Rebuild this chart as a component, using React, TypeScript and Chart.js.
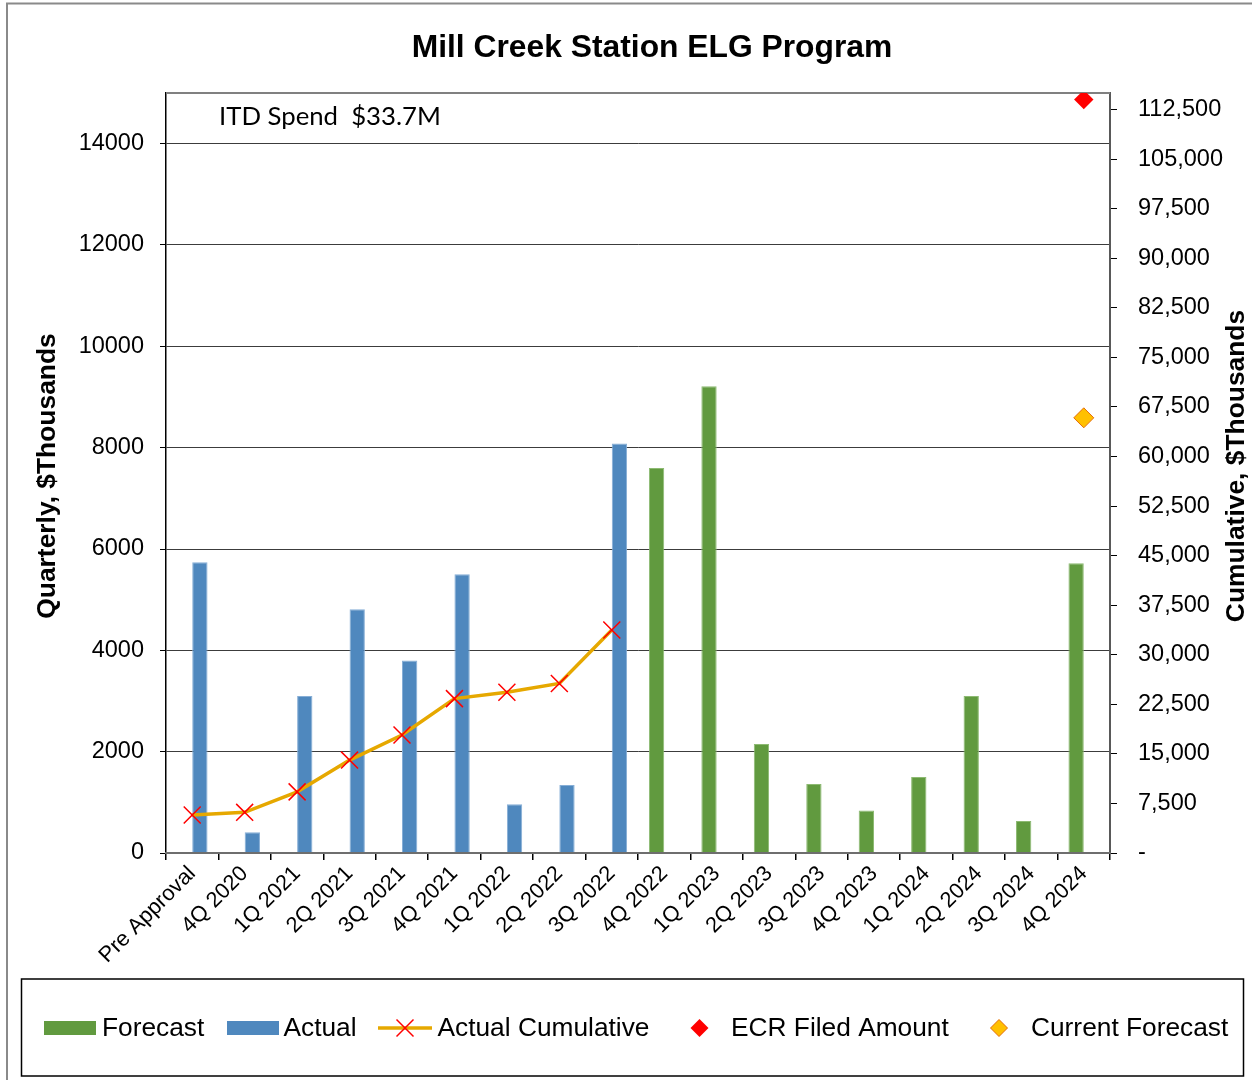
import React, { useEffect, useRef } from 'react';
import { Chart, registerables } from 'chart.js';

Chart.register(...registerables);

const CATEGORIES = [
  'Pre Approval', '4Q 2020', '1Q 2021', '2Q 2021', '3Q 2021', '4Q 2021',
  '1Q 2022', '2Q 2022', '3Q 2022', '4Q 2022', '1Q 2023', '2Q 2023',
  '3Q 2023', '4Q 2023', '1Q 2024', '2Q 2024', '3Q 2024', '4Q 2024',
];
const FORECAST = [null, null, null, null, null, null, null, null, null, 7600, 9210, 2150, 1360, 840, 1500, 3100, 630, 5720];
const ACTUAL = [5740, 410, 3100, 4810, 3800, 5500, 960, 1340, 8080, null, null, null, null, null, null, null, null, null];
const ACTUAL_CUMULATIVE = [5740, 6150, 9250, 14060, 17860, 23360, 24320, 25660, 33740];
const ECR_FILED = [null, null, null, null, null, null, null, null, null, null, null, null, null, null, null, null, null, 114000];
const CURRENT_FORECAST = [null, null, null, null, null, null, null, null, null, null, null, null, null, null, null, null, null, 65850];

const LEFT_TICKS = [0, 2000, 4000, 6000, 8000, 10000, 12000, 14000];
const RIGHT_TICKS = [0, 7500, 15000, 22500, 30000, 37500, 45000, 52500, 60000, 67500, 75000, 82500, 90000, 97500, 105000, 112500];
const LEFT_MAX = 15000;
const RIGHT_MAX = 115000;

const TITLE = 'Mill Creek Station ELG Program';
const ANNOTATION = 'ITD Spend  $33.7M';
const LEFT_TITLE = 'Quarterly, $Thousands';
const RIGHT_TITLE = 'Cumulative, $Thousands';

const ARIAL = '"Liberation Sans", Arial, sans-serif';
const GREEN = '#619A3F';
const BLUE = '#4F88BE';
const GOLD = '#E6A800';
const RED = '#FF0000';
const ORANGE_FILL = '#FFC000';
const ORANGE_EDGE = '#E46C0A';

function diamond(ctx: CanvasRenderingContext2D, x: number, y: number, r: number) {
  ctx.beginPath();
  ctx.moveTo(x - r, y);
  ctx.lineTo(x, y - r);
  ctx.lineTo(x + r, y);
  ctx.lineTo(x, y + r);
  ctx.closePath();
}

const decoPlugin = {
  id: 'deco',
  beforeDraw(chart: any) {
    const ctx = chart.ctx as CanvasRenderingContext2D;
    ctx.save();
    ctx.fillStyle = '#ffffff';
    ctx.fillRect(0, 0, chart.width, chart.height);
    ctx.strokeStyle = '#8a8a8a';
    ctx.lineWidth = 2;
    ctx.strokeRect(7, 3.5, 1400, 1200);
    ctx.restore();
  },
  beforeDatasetsDraw(chart: any) {
    const ctx = chart.ctx as CanvasRenderingContext2D;
    const a = chart.chartArea;
    ctx.save();
    ctx.strokeStyle = '#808080';
    ctx.lineWidth = 2;
    ctx.beginPath();
    ctx.moveTo(a.left, a.top);
    ctx.lineTo(a.right, a.top);
    ctx.stroke();
    ctx.restore();
  },
  afterDraw(chart: any) {
    const ctx = chart.ctx as CanvasRenderingContext2D;
    ctx.save();
    ctx.fillStyle = '#000';
    ctx.textBaseline = 'alphabetic';

    // title
    ctx.font = `bold 31.8px ${ARIAL}`;
    ctx.textAlign = 'center';
    ctx.fillText(TITLE, 652, 56.5);

    // annotation
    ctx.textAlign = 'left';
    ctx.font = '28px Lato';
    const w = ctx.measureText(ANNOTATION).width;
    const fs = (28 * 222) / w;
    ctx.font = `${fs}px Lato`;
    ctx.fillText(ANNOTATION, 219, 124.5);

    // axis titles
    ctx.font = `bold 26.4px ${ARIAL}`;
    ctx.textAlign = 'center';
    ctx.save();
    ctx.translate(54.5, 476);
    ctx.rotate(-Math.PI / 2);
    ctx.fillText(LEFT_TITLE, 0, 0);
    ctx.restore();
    ctx.save();
    ctx.translate(1244, 466);
    ctx.rotate(-Math.PI / 2);
    ctx.fillText(RIGHT_TITLE, 0, 0);
    ctx.restore();

    // legend box
    ctx.strokeStyle = '#000';
    ctx.lineWidth = 1.5;
    ctx.strokeRect(21.5, 979, 1222, 97);

    const ds = chart.data.datasets;
    const cy = 1028;
    ctx.font = `26.3px ${ARIAL}`;
    ctx.textAlign = 'left';
    // Forecast
    ctx.fillStyle = GREEN;
    ctx.fillRect(44, 1021, 52, 14);
    ctx.fillStyle = '#000';
    ctx.fillText(ds[0].label, 102, 1036);
    // Actual
    ctx.fillStyle = BLUE;
    ctx.fillRect(227, 1021, 52, 14);
    ctx.fillStyle = '#000';
    ctx.fillText(ds[1].label, 283.5, 1036);
    // Actual Cumulative
    ctx.strokeStyle = GOLD;
    ctx.lineWidth = 3.5;
    ctx.beginPath();
    ctx.moveTo(378, cy);
    ctx.lineTo(432, cy);
    ctx.stroke();
    ctx.strokeStyle = RED;
    ctx.lineWidth = 1.5;
    ctx.beginPath();
    ctx.moveTo(405 - 8.5, cy - 8.5);
    ctx.lineTo(405 + 8.5, cy + 8.5);
    ctx.moveTo(405 + 8.5, cy - 8.5);
    ctx.lineTo(405 - 8.5, cy + 8.5);
    ctx.stroke();
    ctx.fillStyle = '#000';
    ctx.fillText(ds[2].label, 437.5, 1036);
    // ECR Filed Amount
    ctx.fillStyle = RED;
    diamond(ctx, 699.5, cy, 9);
    ctx.fill();
    ctx.fillStyle = '#000';
    ctx.fillText(ds[3].label, 731, 1036);
    // Current Forecast
    ctx.fillStyle = ORANGE_FILL;
    ctx.strokeStyle = ORANGE_EDGE;
    ctx.lineWidth = 1;
    diamond(ctx, 999, cy, 8.5);
    ctx.fill();
    ctx.stroke();
    ctx.fillStyle = '#000';
    ctx.fillText(ds[4].label, 1031, 1036);

    ctx.restore();
  },
};

export default function App() {
  const ref = useRef<HTMLCanvasElement | null>(null);

  useEffect(() => {
    if (!ref.current) return;
    const chart = new Chart(ref.current, {
      type: 'bar',
      data: {
        labels: CATEGORIES,
        datasets: [
          {
            type: 'bar',
            label: 'Forecast',
            data: FORECAST,
            backgroundColor: GREEN,
            borderColor: '#8DBA72',
            borderWidth: 1,
            yAxisID: 'y',
            order: 2,
            categoryPercentage: 0.584,
            barPercentage: 1.0,
          },
          {
            type: 'bar',
            label: 'Actual',
            data: ACTUAL,
            backgroundColor: BLUE,
            borderColor: '#86AED6',
            borderWidth: 1,
            yAxisID: 'y',
            order: 2,
            categoryPercentage: 0.584,
            barPercentage: 1.0,
          },
          {
            type: 'line',
            label: 'Actual Cumulative',
            data: ACTUAL_CUMULATIVE,
            borderColor: GOLD,
            borderWidth: 3.5,
            tension: 0,
            pointStyle: 'crossRot',
            pointRadius: 12,
            pointBorderColor: RED,
            pointBackgroundColor: RED,
            pointBorderWidth: 1.5,
            yAxisID: 'y1',
            order: 1,
          },
          {
            type: 'line',
            label: 'ECR Filed Amount',
            data: ECR_FILED,
            showLine: false,
            pointStyle: 'rectRot',
            pointRadius: 9.7,
            pointBackgroundColor: RED,
            pointBorderColor: RED,
            pointBorderWidth: 0,
            yAxisID: 'y1',
            order: 0,
          },
          {
            type: 'line',
            label: 'Current Forecast',
            data: CURRENT_FORECAST,
            showLine: false,
            pointStyle: 'rectRot',
            pointRadius: 10,
            pointBackgroundColor: ORANGE_FILL,
            pointBorderColor: ORANGE_EDGE,
            pointBorderWidth: 1,
            yAxisID: 'y1',
            order: 0,
          },
        ],
      },
      options: {
        responsive: false,
        animation: false,
        layout: { padding: { top: 93, left: 0, right: 0, bottom: 0 } },
        plugins: {
          legend: { display: false },
          title: { display: false },
          tooltip: { enabled: false },
        },
        scales: {
          x: {
            offset: true,
            grid: {
              offset: true,
              drawOnChartArea: false,
              drawTicks: true,
              tickLength: 7,
              tickColor: '#000',
              lineWidth: 1.5,
            },
            border: { display: true, color: '#6e6e6e', width: 2, z: 1 },
            ticks: {
              autoSkip: false,
              minRotation: 45,
              maxRotation: 45,
              padding: 1,
              color: '#000',
              font: { family: ARIAL, size: 21.8 },
            },
            afterFit(scale: any) {
              scale.height = 227;
            },
          },
          y: {
            position: 'left',
            min: 0,
            max: LEFT_MAX,
            grid: {
              color: '#3c3c3c',
              lineWidth: 1,
              tickLength: 6,
              tickColor: '#000',
            },
            border: { display: true, color: '#000', width: 1.5 },
            ticks: {
              padding: 16,
              color: '#000',
              font: { family: ARIAL, size: 23.5 },
              callback: (v: any) => String(v),
            },
            afterBuildTicks(scale: any) {
              scale.ticks = LEFT_TICKS.map((v) => ({ value: v }));
            },
            afterFit(scale: any) {
              scale.width = 166;
            },
          },
          y1: {
            position: 'right',
            min: 0,
            max: RIGHT_MAX,
            grid: {
              drawOnChartArea: false,
              tickLength: 7,
              tickColor: '#000',
              lineWidth: 1,
            },
            border: { display: true, color: '#595959', width: 2 },
            ticks: {
              padding: 21,
              color: '#000',
              font: { family: ARIAL, size: 23.5 },
              callback: (v: any) => (Number(v) === 0 ? '-' : Number(v).toLocaleString('en-US')),
            },
            afterBuildTicks(scale: any) {
              scale.ticks = RIGHT_TICKS.map((v) => ({ value: v }));
            },
            afterFit(scale: any) {
              scale.width = 142;
            },
          },
        },
      },
      plugins: [decoPlugin],
    } as any);
    return () => chart.destroy();
  }, []);

  return (
    <div style={{ position: 'absolute', left: 0, top: 0, width: 1252, height: 1080, background: '#fff' }}>
      <canvas ref={ref} width={1252} height={1080} style={{ display: 'block', width: 1252, height: 1080 }} />
    </div>
  );
}
